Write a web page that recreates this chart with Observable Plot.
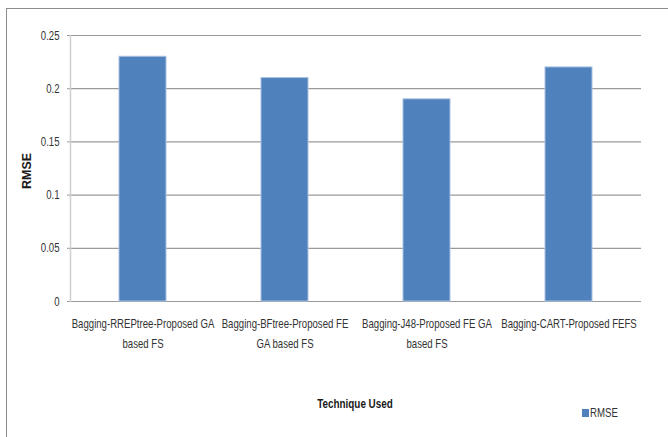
<!DOCTYPE html>
<html>
<head>
<meta charset="utf-8">
<script src="https://cdn.jsdelivr.net/npm/d3@7"></script>
<script src="https://cdn.jsdelivr.net/npm/@observablehq/plot@0.6"></script>
<style>
  html, body { margin: 0; padding: 0; background: #fff; }
  #wrap { position: relative; width: 668px; height: 437px; overflow: hidden; font-family: "Liberation Sans", Arial, sans-serif; }
  #wrap svg { position: absolute; left: 0; top: 0; }
  .border-top { position: absolute; left: 6px; top: 8px; width: 662px; height: 0; border-top: 1.5px solid #8c8c8c; }
  .border-left { position: absolute; left: 6px; top: 8px; width: 0; height: 429px; border-left: 1.5px solid #8c8c8c; }
  .xtitle { position: absolute; left: 355px; top: 403px; transform: translate(-50%, -50%) scaleX(0.76); font-weight: bold; font-size: 13px; color: #1a1a1a; white-space: nowrap; }
  .ytitle { position: absolute; left: 27px; top: 171px; transform: translate(-50%, -50%) rotate(-90deg); font-weight: bold; font-size: 12.5px; color: #1a1a1a; white-space: nowrap; }
  .legend { position: absolute; left: 582px; top: 405px; font-size: 13px; color: #333; display: flex; align-items: center; }
  .legend .sw { width: 7px; height: 8px; background: #4F81BD; margin-right: 1px; }
  .legend .lt { display: inline-block; transform: scaleX(0.74); transform-origin: left center; }
</style>
</head>
<body>
<div id="wrap">
  <div class="border-top"></div>
  <div class="border-left"></div>
  <div class="ytitle">RMSE</div>
  <div class="xtitle">Technique Used</div>
  <div class="legend"><span class="sw"></span><span class="lt">RMSE</span></div>
</div>
<script>
const categories = [
  "Bagging-RREPtree-Proposed GA based FS",
  "Bagging-BFtree-Proposed FE GA based FS",
  "Bagging-J48-Proposed FE GA based FS",
  "Bagging-CART-Proposed FEFS"
];
const tickLabels = [
  "Bagging-RREPtree-Proposed GA\nbased FS",
  "Bagging-BFtree-Proposed FE\nGA based FS",
  "Bagging-J48-Proposed FE GA\nbased FS",
  "Bagging-CART-Proposed FEFS"
];
const rmse = [0.23, 0.21, 0.19, 0.22];
const yTicks = [0, 0.05, 0.1, 0.15, 0.2, 0.25];

const data = categories.map((c, i) => ({category: c, value: rmse[i]}));
const labelOf = new Map(categories.map((c, i) => [c, tickLabels[i]]));

const chart = Plot.plot({
  width: 668,
  height: 437,
  marginLeft: 70,
  marginRight: 27,
  marginTop: 35,
  marginBottom: 136,
  style: {fontFamily: '"Liberation Sans", Arial, sans-serif', fontSize: "13px", color: "#333", background: "transparent"},
  x: {domain: categories, paddingInner: 0.67, paddingOuter: 0.335, label: null},
  y: {domain: [0, 0.25], label: null},
  marks: [
    Plot.gridY(yTicks, {stroke: "#9a9a9a", strokeOpacity: 1, strokeWidth: 1.2}),
    Plot.axisY({ticks: yTicks, tickSize: 3, tickPadding: 8, stroke: "#9a9a9a", tickFormat: d => String(+d.toFixed(2)), fill: "#333", fontSize: 13}),
    Plot.frame({anchor: "left", stroke: "#d0d0d0", strokeWidth: 1.5}),
    Plot.barY(data, {x: "category", y: "value", fill: "#4F81BD", stroke: "#a9c0e0", strokeWidth: 1}),
    Plot.axisX({tickSize: 0, tickPadding: 12, tickFormat: d => labelOf.get(d), lineHeight: 1.55, fill: "#333", fontSize: 13})
  ]
});

// Condense text horizontally to mimic the narrow original typeface.
const sx = 0.74;
chart.querySelectorAll("text").forEach(t => {
  const tr = t.getAttribute("transform");
  if (tr) {
    t.setAttribute("transform", tr + ` scale(${sx},1)`);
  } else {
    const x = +(t.getAttribute("x") || 0), y = +(t.getAttribute("y") || 0);
    t.setAttribute("x", 0); t.setAttribute("y", 0);
    t.querySelectorAll("tspan[x]").forEach(s => s.setAttribute("x", 0));
    t.setAttribute("transform", `translate(${x},${y}) scale(${sx},1)`);
  }
});
document.getElementById("wrap").prepend(chart);
</script>
</body>
</html>
